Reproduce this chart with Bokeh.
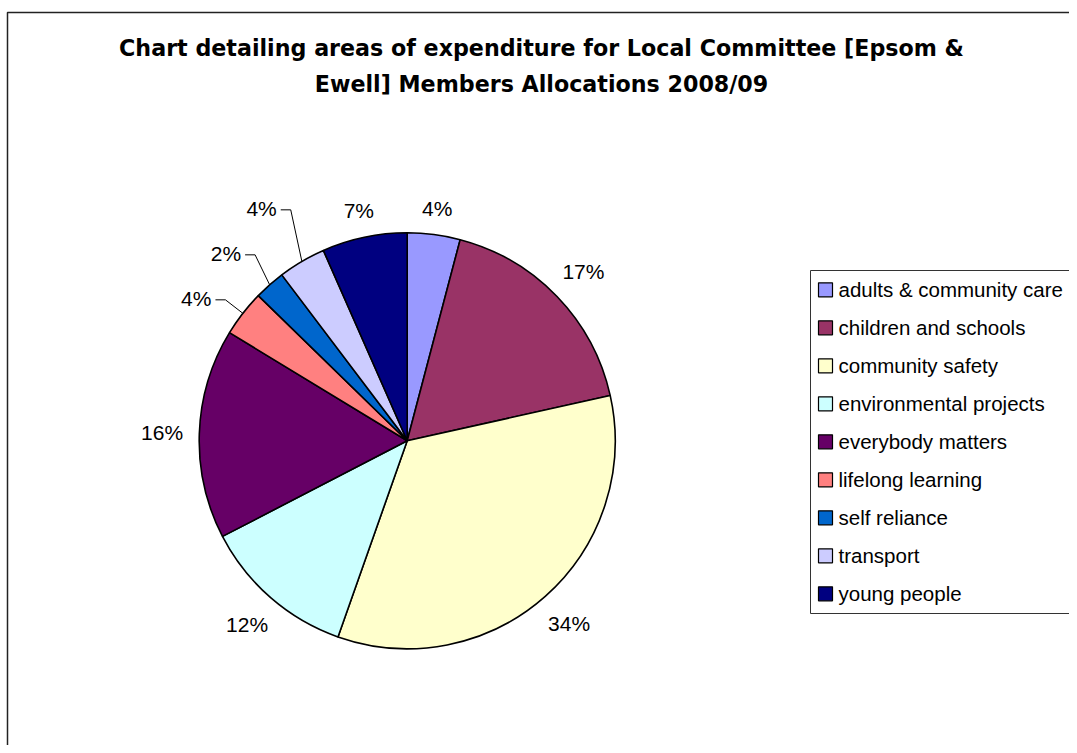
import math
from bokeh.plotting import figure
from bokeh.models import ColumnDataSource, Range1d
from bokeh.embed import file_html
from bokeh.resources import INLINE
from bokeh.core.properties import value

# ---------------- data ----------------
categories = ["adults & community care", "children and schools", "community safety",
              "environmental projects", "everybody matters", "lifelong learning",
              "self reliance", "transport", "young people"]
shares = [4.1, 17.4, 33.9, 12.0, 16.3, 3.6, 2.4, 3.7, 6.6]
colors = ["#9999FF", "#993366", "#FFFFCC", "#CCFFFF", "#660066",
          "#FF8080", "#0066CC", "#CCCCFF", "#000080"]
title_lines = ["Chart detailing areas of expenditure for Local Committee [Epsom &",
               "Ewell] Members Allocations 2008/09"]

# ---------------- layout helpers (pixel -> data) ----------------
W, H = 1069, 745
def X(px):
    return px
def Y(py):
    return H - py

FONT = value("Liberation Sans")

p = figure(width=W, height=H, x_range=Range1d(0, W), y_range=Range1d(0, H),
           output_backend="svg", toolbar_location=None, min_border=0,
           x_axis_location=None, y_axis_location=None)
p.grid.visible = False
p.outline_line_color = None
p.background_fill_color = "white"
p.border_fill_color = "white"

# chart area border (left + top visible)
p.line(x=[X(7), X(7), W + 20], y=[-20, Y(12), Y(12)], line_color="#222222", line_width=1.5)

# title
p.text(x=[X(541), X(541)], y=[Y(47.5), Y(83)], text=title_lines,
       text_align="center", text_baseline="middle", text_font=value("DejaVu Sans"),
       text_font_size="22.2px", text_font_style="bold", text_color="black")

# ---------------- pie ----------------
cx, cy, R = X(406.7), Y(440.3), 208
total = float(sum(shares))
fr = [s / total for s in shares]
cum = [0.0]
for f in fr:
    cum.append(cum[-1] + f)
start = [math.pi / 2 - 2 * math.pi * cum[i] for i in range(len(fr))]
end = [math.pi / 2 - 2 * math.pi * cum[i + 1] for i in range(len(fr))]
src = ColumnDataSource(dict(start=start, end=end, color=colors, cat=categories))
p.wedge(x=cx, y=cy, radius=R, start_angle="start", end_angle="end", direction="clock",
        fill_color="color", line_color="black", line_width=1.6, source=src)

# ---------------- percent labels ----------------
LFS = 21
lab_x, lab_y, lab_t = [], [], []
lead = []
for i, f in enumerate(fr):
    pct = int(f * 100 + 0.5)
    txt = f"{pct}%"
    th = 2 * math.pi * (cum[i] + cum[i + 1]) / 2
    s, c = math.sin(th), math.cos(th)
    if f < 0.04:
        lead.append(dict(i=i, txt=txt, s=s, c=c,
                         ex=cx + R * s, ey=cy + R * c,
                         bx=cx + (R + 22) * s, by=cy + (R + 22) * c))
        continue
    hw = (0.556 * (len(txt) - 1) + 0.889) * LFS / 2
    hh = 8
    d = R + 16 + abs(s) * hw + abs(c) * hh
    lab_x.append(cx + d * s)
    lab_y.append(cy + d * c)
    lab_t.append(txt)

p.text(x=lab_x, y=lab_y, text=lab_t, text_align="center", text_baseline="middle",
       text_font=FONT, text_font_size=f"{LFS}px", text_color="black")

# leader-line labels, spread vertically to avoid overlap
lead.sort(key=lambda d: d["by"])
prev = None
for d in lead:
    if prev is not None and d["by"] < prev + 45:
        d["by"] = prev + 45
    prev = d["by"]
lx, ly, lt = [], [], []
mxs, mys = [], []
for d in lead:
    sgn = -1 if d["s"] < 0 else 1
    hx = d["bx"] + sgn * 10
    mxs.append([d["ex"], d["bx"], hx])
    mys.append([d["ey"], d["by"], d["by"]])
    lx.append(d["bx"] + sgn * 14)
    ly.append(d["by"] + 1.5)
    lt.append(d["txt"])
p.multi_line(xs=mxs, ys=mys, line_color="black", line_width=1)
p.text(x=lx, y=ly, text=lt, text_align="right", text_baseline="middle",
       text_font=FONT, text_font_size=f"{LFS}px", text_color="black")

# ---------------- legend ----------------
p.quad(left=X(810), right=W + 30, top=Y(270), bottom=Y(613),
       fill_color="white", line_color="#333333", line_width=1)
leg_y = [Y(289.3 + 38 * i) for i in range(len(categories))]
p.rect(x=[X(825)] * len(categories), y=leg_y, width=14, height=14,
       fill_color=colors, line_color="black", line_width=1.2)
p.text(x=[X(838)] * len(categories), y=leg_y, text=categories,
       text_align="left", text_baseline="middle", text_font=FONT,
       text_font_size="20.5px", text_color="black")

open("out.html", "w").write(file_html(p, INLINE))
